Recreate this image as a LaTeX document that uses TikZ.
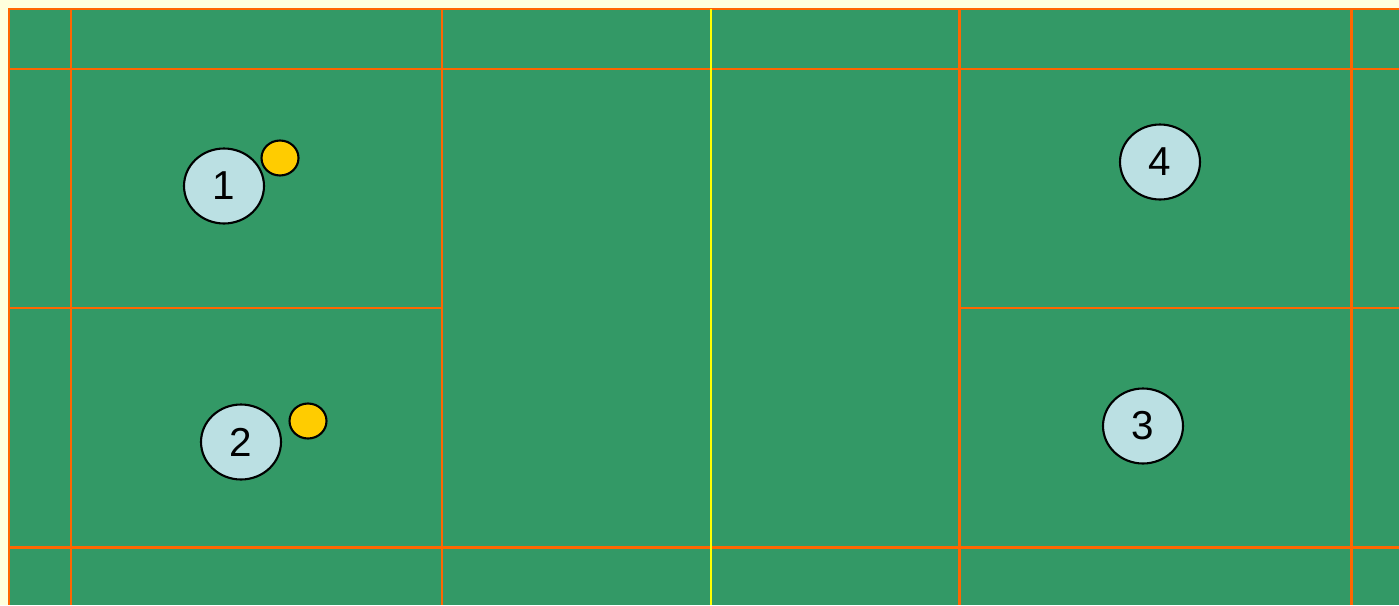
\documentclass[tikz,border=0pt]{standalone}
\usepackage{fontspec}
\setmainfont{Liberation Sans}
\usetikzlibrary{shapes.geometric}
\definecolor{cream}{HTML}{FFFFDD}
\definecolor{courtgreen}{HTML}{339966}
\definecolor{lineorange}{HTML}{FF6600}
\definecolor{netyellow}{HTML}{FFFF00}
\definecolor{playerblue}{HTML}{BBE0E3}
\definecolor{ballyellow}{HTML}{FFCC00}

\begin{document}
\begin{tikzpicture}[x=0.02cm, y=-0.02cm]
\tikzset{
    player/.style={draw, ellipse, line width=1.2pt, fill=playerblue, minimum width=1.6cm, minimum height=1.5cm, inner sep=0pt, font=\fontsize{23}{27}\selectfont},
    shuttle/.style={draw, ellipse, line width=1.2pt, fill=ballyellow, minimum width=0.74cm, minimum height=0.7cm, inner sep=0pt},
    courtline/.style={draw=lineorange, line width=1.7pt},
    netline/.style={draw=netyellow, line width=1.5pt}
}
\useasboundingbox (0,0) rectangle (1399,605);
\fill[cream] (0,0) rectangle (1399,605);
\fill[courtgreen] (9,9) rectangle (1399,605);
% court lines
\draw[courtline] (1399,9) -- (9,9) -- (9,605);
\draw[courtline] (9,69) -- (1399,69);
\draw[courtline] (9,547) -- (1399,547);
\draw[courtline] (9,308) -- (442,308);
\draw[courtline] (959,308) -- (1399,308);
\foreach \x in {71,442,959,1351} \draw[courtline] (\x,9) -- (\x,605);
\draw[netline] (711,9) -- (711,605);
% players and shuttles
\node[player] (P1) at (224,186) {1};
\node[player] (P2) at (241,442) {2};
\node[player] (P3) at (1143,426) {3};
\node[player] (P4) at (1160,162) {4};
\node[shuttle] (S1) at (280,158) {};
\node[shuttle] (S2) at (308,421) {};
\end{tikzpicture}
\end{document}
